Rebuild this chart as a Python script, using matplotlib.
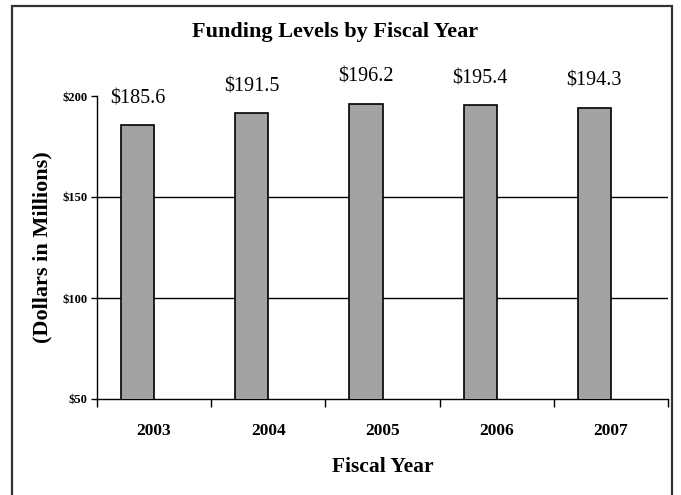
import matplotlib
matplotlib.use("Agg")
import matplotlib.pyplot as plt
from matplotlib.patches import Rectangle

years = ["2003", "2004", "2005", "2006", "2007"]
funding = [185.6, 191.5, 196.2, 195.4, 194.3]
value_labels = ["$185.6", "$191.5", "$196.2", "$195.4", "$194.3"]
ytick_vals = [50, 100, 150, 200]
ytick_labels = ["$50", "$100", "$150", "$200"]

plt.rcParams['font.family'] = ['Liberation Serif', 'DejaVu Serif']

fig = plt.figure(figsize=(6.81, 4.95), dpi=100)
ax = fig.add_axes([97/681, 1-399/495, (668-97)/681, (399-96)/495])

# outer frame
fig.patches.append(Rectangle((12/681, -0.05), (672-12)/681, 1.05 - 6/495,
                             transform=fig.transFigure, fill=False,
                             edgecolor='#333333', linewidth=1.6))

x = list(range(len(years)))
bw = 0.29
ax.bar([i - bw/2 for i in x], funding, width=bw, bottom=0,
       color='#a2a2a2', edgecolor='black', linewidth=1.2, zorder=3)

for i, v, lab in zip(x, funding, value_labels):
    ax.annotate(lab, (i - bw/2, v), xytext=(0, 19), textcoords='offset points',
                ha='center', va='center', fontsize=14.5, clip_on=False)

ax.set_xlim(-0.5, len(years) - 0.5)
ax.set_ylim(50, 200)

for g in [100, 150]:
    ax.axhline(g, color='black', linewidth=1.0, zorder=1)

ax.set_yticks(ytick_vals)
ax.set_yticklabels(ytick_labels, fontsize=9, fontweight='bold')
ax.tick_params(axis='y', direction='out', length=4, width=1, pad=3)

ax.set_xticks(x)
ax.set_xticklabels(years, fontsize=12.5, fontweight='bold')
ax.tick_params(axis='x', which='major', length=0, pad=17)
ax.set_xticks([i - 0.5 for i in range(len(years) + 1)], minor=True)
ax.tick_params(axis='x', which='minor', direction='out', length=6, width=1)

for s in ['top', 'right']:
    ax.spines[s].set_visible(False)
for s in ['left', 'bottom']:
    ax.spines[s].set_linewidth(1.0)

ax.set_xlabel("Fiscal Year", fontsize=15.5, fontweight='bold', labelpad=13)
ax.set_ylabel("(Dollars in Millions)", fontsize=16, fontweight='bold', labelpad=7)

fig.text(335/681, 1-32/495, "Funding Levels by Fiscal Year", ha='center', va='center',
         fontsize=16, fontweight='bold')

fig.savefig("out.png", dpi=100)
